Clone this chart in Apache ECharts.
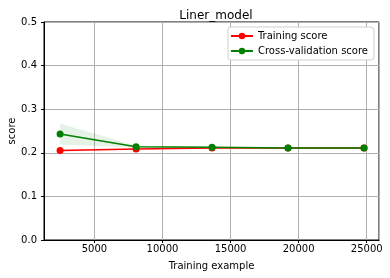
<!DOCTYPE html>
<html><head><meta charset="utf-8">
<script src="https://cdn.jsdelivr.net/npm/echarts@6/dist/echarts.min.js"></script>
<style>html,body{margin:0;padding:0;background:#fff}#c{width:390px;height:278px}</style>
</head><body><div id="c"></div>
<script>
var trainSizes = [2480, 8060, 13640, 19220, 24800];
var trainMean = [0.205, 0.209, 0.211, 0.211, 0.211];
var trainStd = [0.002, 0.001, 0.001, 0.001, 0.001];
var cvMean = [0.243, 0.214, 0.213, 0.211, 0.211];
var cvStd = [0.024, 0.002, 0.001, 0.001, 0.001];
var yTicks = [0, 0.1, 0.2, 0.3, 0.4, 0.5];

function pairs(xs, ys) { return xs.map(function (x, i) { return [x, ys[i]]; }); }

function bandSeries(mean, std, color) {
  return {
    type: 'custom', silent: true, z: 1,
    data: trainSizes.map(function (x, i) { return [x, mean[i] - std[i], mean[i] + std[i]]; }),
    encode: {x: 0, y: [1, 2]},
    renderItem: function (params, api) {
      if (params.dataIndex !== 0) return null;
      var pts = [];
      var n = trainSizes.length;
      for (var i = 0; i < n; i++) pts.push(api.coord([trainSizes[i], mean[i] + std[i]]));
      for (var j = n - 1; j >= 0; j--) pts.push(api.coord([trainSizes[j], mean[j] - std[j]]));
      return {type: 'polygon', shape: {points: pts}, style: {fill: color}};
    }
  };
}

var font = 'DejaVu Sans';
var chart = echarts.init(document.getElementById('c'), null, {renderer: 'canvas'});
chart.setOption({
  animation: false,
  backgroundColor: '#fff',
  title: {text: 'Liner_model', left: 211, textAlign: 'center', top: 5,
    textStyle: {fontFamily: font, fontSize: 12, fontWeight: 'normal', color: '#000'}},
  grid: {left: 44, right: 11, top: 22, bottom: 38, containLabel: false, outerBoundsMode: 'none',
    show: true, borderColor: '#000', borderWidth: 1, backgroundColor: 'transparent'},
  legend: {
    orient: 'vertical', right: 16, top: 27,
    data: ['Training score', 'Cross-validation score'],
    backgroundColor: '#fff', borderColor: '#d0d0d0', borderWidth: 1, borderRadius: 3,
    padding: [4, 6, 4, 2], itemGap: 5, itemWidth: 22, itemHeight: 8,
    textStyle: {fontFamily: font, fontSize: 10, color: '#000'}
  },
  xAxis: {
    type: 'value', min: 1300, max: 25900, splitNumber: 5,
    name: 'Training example', nameLocation: 'middle', nameGap: 21,
    nameTextStyle: {fontFamily: font, fontSize: 10, color: '#000'},
    axisLine: {show: true, onZero: false, lineStyle: {color: '#000', width: 1}},
    axisTick: {show: true, length: 3, lineStyle: {color: '#000'}},
    axisLabel: {fontFamily: font, fontSize: 10, color: '#000', margin: 4, showMinLabel: false, showMaxLabel: false,
      formatter: function (v) { return String(v); }},
    splitLine: {show: true, lineStyle: {color: '#b0b0b0', width: 1}}
  },
  yAxis: {
    type: 'value', min: yTicks[0], max: yTicks[yTicks.length - 1], interval: 0.1,
    name: 'score', nameLocation: 'middle', nameGap: 27, nameMoveOverlap: false,
    nameTextStyle: {fontFamily: font, fontSize: 10, color: '#000'},
    axisLine: {show: true, lineStyle: {color: '#000', width: 1}},
    axisTick: {show: true, length: 3, lineStyle: {color: '#000'}},
    axisLabel: {fontFamily: font, fontSize: 10, color: '#000', margin: 7,
      formatter: function (v) { return v.toFixed(1); }},
    splitLine: {show: true, lineStyle: {color: '#b0b0b0', width: 1}}
  },
  series: [
    bandSeries(trainMean, trainStd, 'rgba(255,0,0,0.1)'),
    bandSeries(cvMean, cvStd, 'rgba(0,128,0,0.1)'),
    {name: 'Training score', type: 'line', data: pairs(trainSizes, trainMean), color: '#ff0000',
      symbol: 'circle', symbolSize: 7, lineStyle: {width: 1.5, color: '#ff0000'}, itemStyle: {color: '#ff0000'}, z: 3},
    {name: 'Cross-validation score', type: 'line', data: pairs(trainSizes, cvMean), color: '#008000',
      symbol: 'circle', symbolSize: 7, lineStyle: {width: 1.5, color: '#008000'}, itemStyle: {color: '#008000'}, z: 4}
  ]
});
</script></body></html>
